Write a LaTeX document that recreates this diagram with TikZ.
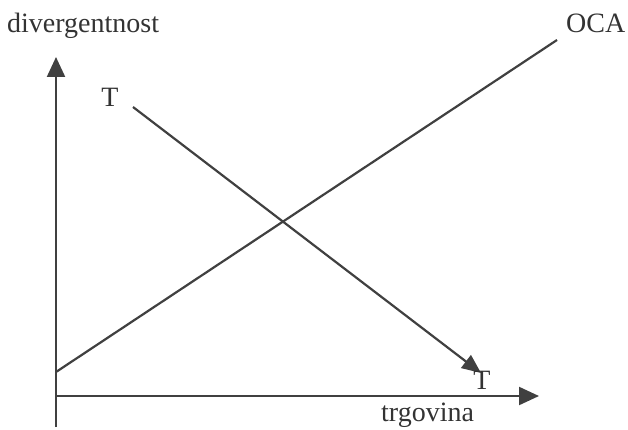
\documentclass[tikz,border=0pt]{standalone}
\usepackage{fontspec}
\setmainfont{Liberation Serif}
\usetikzlibrary{arrows.meta}
\begin{document}
\begin{tikzpicture}[x=1pt,y=-1pt,
  axis/.style={line width=2.2pt,draw=black!75,-{Triangle[length=20pt,width=18pt]}},
  curve/.style={line width=2.2pt,draw=black!75},
  lbl/.style={inner sep=0pt,font=\fontsize{28}{32}\selectfont,text=black!80}]
\useasboundingbox (0,0) rectangle (628,430);
\coordinate (o) at (56,396);
\coordinate (vb) at (56,427);
\coordinate (vt) at (56,57);
\coordinate (ht) at (539,396);
\coordinate (ocaS) at (56,372);
\coordinate (ocaE) at (557,40);
\coordinate (tS) at (133,107);
\coordinate (tE) at (481,373);
\draw[axis] (vb) -- (vt);
\draw[axis] (o) -- (ht);
\draw[curve] (ocaS) -- (ocaE);
\draw[curve,-{Triangle[length=19pt,width=16pt]}] (tS) -- (tE);
\node[lbl,anchor=base west] (ylab) at (7,33) {divergentnost};
\node[lbl,anchor=base west] (oca) at (566,33) {OCA};
\node[lbl,anchor=base] (t1) at (110,107) {T};
\node[lbl,anchor=base] (t2) at (482,389) {T};
\node[lbl,anchor=base west] (xlab) at (381,421) {trgovina};
\end{tikzpicture}
\end{document}
